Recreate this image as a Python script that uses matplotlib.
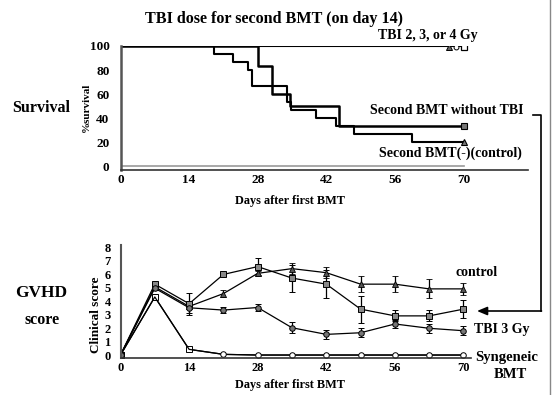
import matplotlib.pyplot as plt
from matplotlib.lines import Line2D
from matplotlib.patches import FancyArrowPatch

# survival data (Kaplan-Meier steps)
tbi_t = [0, 70]
tbi_s = [100, 100]
tbi_mark_t = [67, 68.5, 70]
tbi_mark_s = [99, 99, 99]

noTBI_t = [0, 28.1, 30.9, 34.6, 44.6, 70]
noTBI_s = [100, 83.3, 60, 50, 33.3, 33.3]

ctrl_t = [0, 19.1, 22.9, 26.1, 26.8, 33.9, 34.7, 39.9, 44.0, 47.7, 59.4, 70]
ctrl_s = [100, 93.3, 86.7, 80, 66.7, 53.3, 46.7, 40, 33.3, 26.7, 20, 20]

# GVHD clinical score
days = [0, 7, 14, 21, 28, 35, 42, 49, 56, 63, 70]
sq_score = [0, 5.25, 3.8, 5.97, 6.55, 5.7, 5.25, 3.4, 2.9, 2.9, 3.4]
sq_err = [0, 0.1, 0.8, 0.1, 0.65, 1.0, 1.05, 1.0, 0.4, 0.4, 0.65]
ctrl_score = [0, 5.05, 3.6, 4.55, 6.05, 6.4, 6.1, 5.25, 5.25, 4.9, 4.9]
ctrl_err = [0, 0.1, 0.2, 0.25, 0.2, 0.4, 0.4, 0.6, 0.6, 0.7, 0.45]
tbi3_score = [0, 4.95, 3.5, 3.33, 3.52, 2.02, 1.53, 1.65, 2.3, 1.98, 1.8]
tbi3_err = [0, 0.1, 0.4, 0.2, 0.25, 0.4, 0.35, 0.35, 0.3, 0.35, 0.35]
syn_score = [0, 4.3, 0.42, 0.05, 0, 0, 0, 0, 0, 0, 0]

xticks = [0, 14, 28, 42, 56, 70]

plt.rcParams['font.family'] = 'Liberation Serif'
plt.rcParams['font.weight'] = 'bold'

W, H = 553, 395
fig = plt.figure(figsize=(W / 100, H / 100), dpi=100)


def px(x, y):
    return (x / W, 1 - y / H)


def axes_px(x0, y0, x1, y1):
    return fig.add_axes([x0 / W, 1 - y1 / H, (x1 - x0) / W, (y1 - y0) / H])


spine_col = '#555555'

# ---- top: survival ----
ax1 = axes_px(120.5, 46, 528, 170)
ax1.set_xlim(0, (528 - 120.5) / 4.9)
ax1.set_ylim(-3.3, 100)
for s in ['top', 'right']:
    ax1.spines[s].set_visible(False)
ax1.spines['left'].set_color(spine_col)
ax1.spines['left'].set_linewidth(1.8)
ax1.spines['bottom'].set_color('#333333')
ax1.spines['bottom'].set_linewidth(1.2)
ax1.plot([0, 70], [0, 0], color='#999999', lw=1.2)

ax1.plot(tbi_t, tbi_s, color='k', lw=1.5)
ax1.step(noTBI_t, noTBI_s, where='post', color='k', lw=1.8)
ax1.step(ctrl_t, ctrl_s, where='post', color='k', lw=1.5)
ax1.plot(tbi_mark_t[0], tbi_mark_s[0], '^', ms=4, mfc='#666666', mec='k', mew=0.7)
ax1.plot(tbi_mark_t[1], tbi_mark_s[1], 'o', ms=3.5, mfc='white', mec='k', mew=0.7)
ax1.plot(tbi_mark_t[2], tbi_mark_s[2], 's', ms=4, mfc='white', mec='k', mew=0.9)
ax1.plot(noTBI_t[-1], noTBI_s[-1], 's', ms=5, mfc='#777777', mec='k', mew=0.8)
ax1.plot(ctrl_t[-1], ctrl_s[-1], '^', ms=5, mfc='#777777', mec='k', mew=0.8)

ax1.set_xticks(xticks)
ax1.set_yticks([0, 20, 40, 60, 80, 100])
ax1.tick_params(length=0, labelsize=9.5, pad=3)
ax1.tick_params(axis='y', pad=8)
for lab in ax1.get_xticklabels() + ax1.get_yticklabels():
    lab.set_fontweight('bold')

# ---- bottom: GVHD score ----
ax2 = axes_px(120.5, 245, 471, 358)
ax2.set_xlim(0, (471 - 120.5) / 4.9)
ax2.set_ylim(-0.22, 8.15)
for s in ['top', 'right']:
    ax2.spines[s].set_visible(False)
ax2.spines['left'].set_color(spine_col)
ax2.spines['left'].set_linewidth(1.5)
ax2.spines['bottom'].set_color('#333333')
ax2.spines['bottom'].set_linewidth(1.2)

ekw = dict(color='k', lw=0.9, elinewidth=0.9, capsize=2, capthick=0.9)
ax2.errorbar(days, ctrl_score, yerr=ctrl_err, marker='^', ms=4,
             mfc='#555555', mec='k', mew=0.6, **ekw)
ax2.errorbar(days, sq_score, yerr=sq_err, marker='s', ms=4.5,
             mfc='#888888', mec='k', mew=0.7, **ekw)
ax2.errorbar(days, tbi3_score, yerr=tbi3_err, marker='o', ms=4,
             mfc='#777777', mec='k', mew=0.7, **ekw)
ax2.plot(days, syn_score, color='k', lw=0.9, marker='s', ms=4,
         mfc='white', mec='k', mew=0.7, markevery=[0, 1, 2])
ax2.plot(days, syn_score, color='k', lw=0.9, marker='o', ms=4,
         mfc='white', mec='k', mew=0.7, markevery=list(range(3, 11)))

ax2.set_xticks(xticks)
ax2.set_yticks(range(0, 9))
ax2.tick_params(length=0, labelsize=9, pad=3)
ax2.tick_params(axis='y', pad=7)
for lab in ax2.get_xticklabels() + ax2.get_yticklabels():
    lab.set_fontweight('bold')

# ---- texts ----
tkw = dict(fontweight='bold', ha='center', va='center')
fig.text(*px(274, 19), 'TBI dose for second BMT (on day 14)', fontsize=11.6, **tkw)
fig.text(*px(428, 36), 'TBI 2, 3, or 4 Gy', fontsize=10, **tkw)
fig.text(*px(447, 111), 'Second BMT without TBI', fontsize=10, **tkw)
fig.text(*px(450, 153), 'Second BMT(-)(control)', fontsize=10, **tkw)
fig.text(*px(41, 108), 'Survival', fontsize=11.5, **tkw)
fig.text(*px(86, 107), '%survival', fontsize=8, rotation=90, **tkw)
fig.text(*px(290, 201), 'Days after first BMT', fontsize=8.8, **tkw)

fig.text(*px(41, 293), 'GVHD', fontsize=12.5, **tkw)
fig.text(*px(42, 320), 'score', fontsize=11.5, **tkw)
fig.text(*px(96, 315), 'Clinical score', fontsize=9.5, rotation=90, **tkw)
fig.text(*px(290, 385), 'Days after first BMT', fontsize=8.8, **tkw)
fig.text(*px(477, 273), 'control', fontsize=10, **tkw)
fig.text(*px(502, 330), 'TBI 3 Gy', fontsize=10, **tkw)
fig.text(*px(507, 358), 'Syngeneic', fontsize=10.5, **tkw)
fig.text(*px(510, 374), 'BMT', fontsize=10.5, **tkw)

# bracket arrow from survival label to GVHD curve
xs = [533 / W, 541 / W, 541 / W]
ys = [1 - 115 / H, 1 - 115 / H, 1 - 311 / H]
fig.add_artist(Line2D(xs, ys, color='k', lw=1.2))
fig.add_artist(FancyArrowPatch(px(541.5, 311), px(477, 311),
                               transform=fig.transFigure,
                               arrowstyle='-|>,head_length=6,head_width=2.5',
                               color='k', lw=1.2, shrinkA=0, shrinkB=0))
fig.add_artist(Line2D([550 / W, 550 / W], [0, 1], color='#888888', lw=1.0))

fig.savefig('out.png', dpi=100)
